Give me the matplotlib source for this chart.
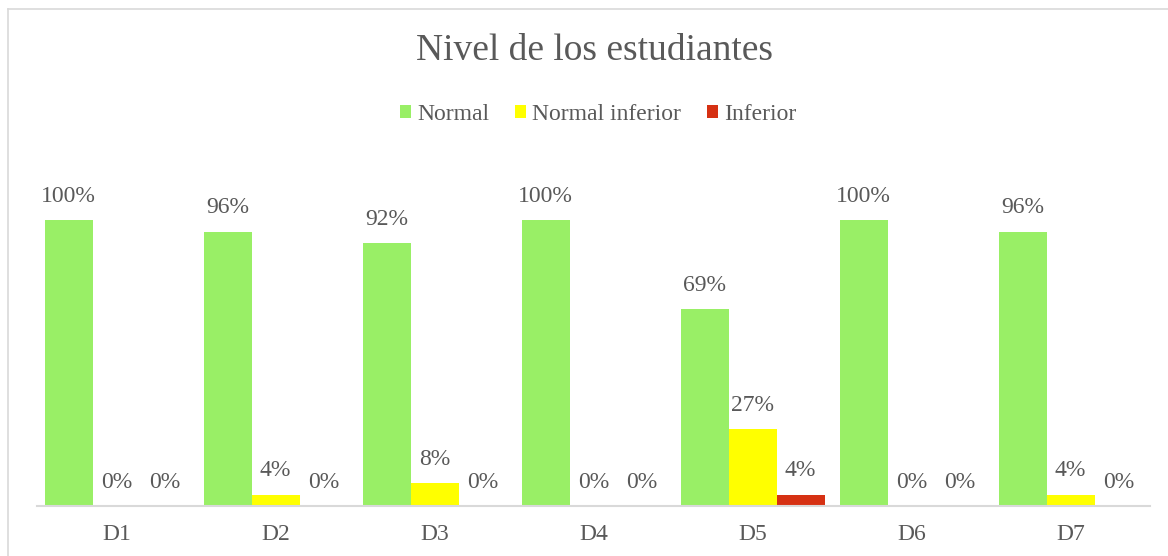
import matplotlib
matplotlib.use("Agg")
import matplotlib.pyplot as plt
import numpy as np
from matplotlib.lines import Line2D
from matplotlib.patches import Patch

categories = ["D1", "D2", "D3", "D4", "D5", "D6", "D7"]
series_names = ["Normal", "Normal inferior", "Inferior"]
normal = [1.00, 0.96, 0.92, 1.00, 0.69, 1.00, 0.96]
normal_inferior = [0.00, 0.04, 0.08, 0.00, 0.27, 0.00, 0.04]
inferior = [0.00, 0.00, 0.00, 0.00, 0.04, 0.00, 0.00]
colors = ["#99EF66", "#FFFF00", "#D63113"]

plt.rcParams["font.family"] = ["Liberation Serif", "DejaVu Serif"]
text_color = "#595959"

W, H = 1168, 556
fig = plt.figure(figsize=(W / 100, H / 100), dpi=100)
ax = fig.add_axes([37 / W, 1 - 506 / H, (1150 - 37) / W, (506 - 163) / H])

x = np.arange(len(categories))
bw = 48 / 159
offsets = [-bw, 0, bw]
for vals, off, col in zip([normal, normal_inferior, inferior], offsets, colors):
    bars = ax.bar(x + off, vals, width=bw, color=col, linewidth=0)
    for b, v in zip(bars, vals):
        ax.annotate(f"{round(v * 100):.0f}%",
                    (b.get_x() + b.get_width() / 2, v),
                    xytext=(0, 17), textcoords="offset points",
                    ha="center", va="center", fontsize=17, color=text_color)

ax.set_xlim(-0.5, len(categories) - 0.5)
ax.set_ylim(0, 1.2)
ax.set_xticks(x)
ax.set_xticklabels(categories, fontsize=17, color=text_color)
ax.tick_params(axis="x", length=0, pad=13)
ax.set_yticks([])
for s in ["top", "right", "left"]:
    ax.spines[s].set_visible(False)
ax.spines["bottom"].set_color("#D9D9D9")
ax.spines["bottom"].set_linewidth(1.5)

fig.text(594 / W, 1 - 51 / H, "Nivel de los estudiantes", ha="center", va="center",
         fontsize=27, color=text_color)

handles = [Patch(facecolor=c, edgecolor="none") for c in colors]
leg = fig.legend(handles, series_names, loc="center", bbox_to_anchor=(598 / W, 1 - 114 / H),
                 ncol=3, frameon=False, fontsize=17, handlelength=0.47, handleheight=0.47,
                 handletextpad=0.25, columnspacing=1.1, labelcolor=text_color,
                 borderpad=0, borderaxespad=0)

# chart area border (top and left only visible)
fig.add_artist(Line2D([7.5 / W, 1.0], [1 - 9 / H, 1 - 9 / H], color="#D9D9D9", linewidth=1.2,
                      transform=fig.transFigure))
fig.add_artist(Line2D([7.5 / W, 7.5 / W], [0, 1 - 9 / H], color="#D9D9D9", linewidth=1.2,
                      transform=fig.transFigure))

fig.savefig("out.png", dpi=100, facecolor="white")
